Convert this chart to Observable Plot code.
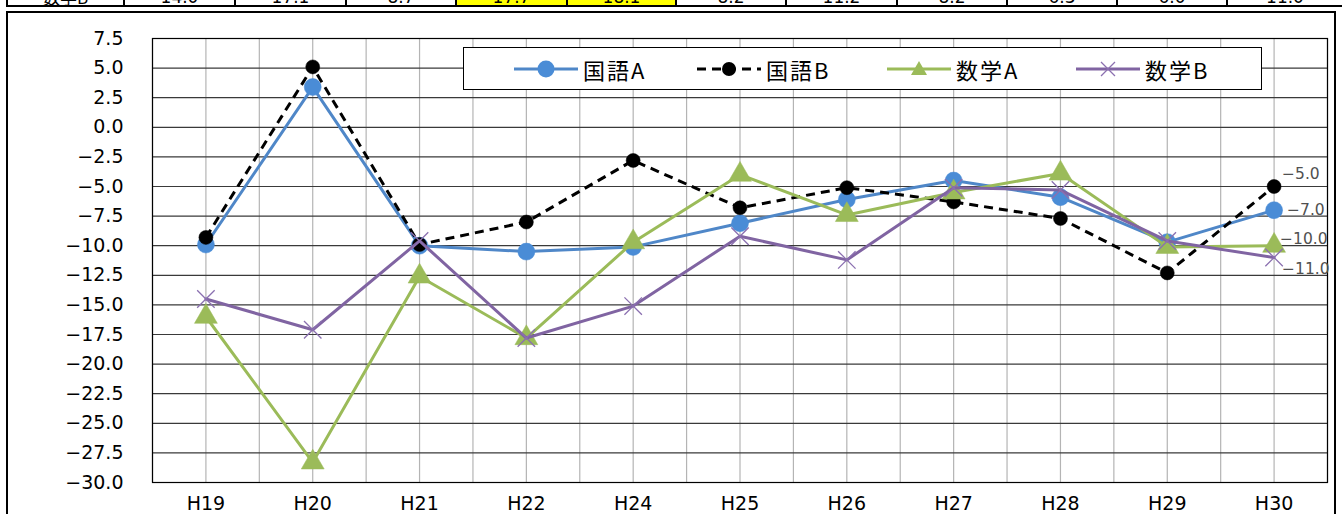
<!DOCTYPE html>
<html>
<head>
<meta charset="utf-8">
<script src="https://cdn.jsdelivr.net/npm/d3@7"></script>
<script src="https://cdn.jsdelivr.net/npm/@observablehq/plot@0.6"></script>
<style>
  html, body { margin: 0; padding: 0; background: #fff; }
  body { width: 1342px; height: 514px; overflow: hidden; position: relative; font-family: "DejaVu Sans", sans-serif; }
  #tablerow { position: absolute; left: 0; top: 0; width: 1342px; height: 8px; overflow: hidden; }
  #tablerow .cell { position: absolute; top: -12px; height: 19px; border-right: 2px solid #000; border-bottom: 2px solid #000;
    box-sizing: border-box; text-align: center; font-size: 17px; line-height: 18px; color: #000; }
  #tablerow .first { border-left: 2px solid #000; font-family: "Noto Sans CJK JP", sans-serif; line-height: 17px; }
  #frame { position: absolute; left: 6px; top: 11px; width: 1330px; height: 520px; border: 2px solid #000; box-sizing: border-box; }
  #chart { position: absolute; left: 0; top: 0; }
  #legend { position: absolute; left: 463px; top: 47px; width: 799px; height: 43px; background: #fff; border: 1px solid #000; box-sizing: border-box; }
  #legend .item { position: absolute; top: 0; height: 41px; display: flex; align-items: center; }
  #legend .lab { font-family: "Noto Sans CJK JP", sans-serif; font-size: 22px; letter-spacing: 2px; color: #000; margin-left: 5px; }
</style>
</head>
<body>
<div id="tablerow"></div>
<div id="frame"></div>
<div id="chart"></div>
<div id="legend"></div>
<script>
// ---- data ----
const categories = ["H19", "H20", "H21", "H22", "H24", "H25", "H26", "H27", "H28", "H29", "H30"];
const seriesNames = ["国語A", "国語B", "数学A", "数学B"];
const kokugoA = [-9.9, 3.4, -10.0, -10.5, -10.1, -8.1, -6.1, -4.5, -5.9, -9.7, -7.0];
const kokugoB = [-9.3, 5.1, -9.9, -8.0, -2.8, -6.8, -5.1, -6.3, -7.7, -12.3, -5.0];
const sugakuA = [-16.0, -28.3, -12.6, -17.8, -9.7, -4.0, -7.4, -5.5, -3.9, -10.1, -10.0];
const sugakuB = [-14.5, -17.1, -9.6, -17.8, -15.1, -9.2, -11.2, -5.1, -5.3, -9.6, -11.0];
const yTicks = [7.5, 5.0, 2.5, 0.0, -2.5, -5.0, -7.5, -10.0, -12.5, -15.0, -17.5, -20.0, -22.5, -25.0, -27.5, -30.0];
const tableLabel = "数学B";
const tableValues = ["14.0", "17.1", "8.7", "17.7", "18.1", "8.2", "11.2", "8.2", "6.3", "6.0", "11.0"];
const tableHighlight = [false, false, false, true, true, false, false, false, false, false, false];

// ---- styles ----
const colors = ["#4f87c8", "#000000", "#9bbb59", "#8064a2"];
const minus = s => s.replace(/-/g, "\u2212");
const fmt = v => minus(v.toFixed(1));

// ---- table row (partially visible, as in the reference crop) ----
const tr = document.getElementById("tablerow");
const colEdges = [6, 125, 236, 347, 457, 568, 677, 787, 898, 1008, 1118, 1228, 1344];
[tableLabel, ...tableValues].forEach((t, k) => {
  const c = document.createElement("div");
  c.className = "cell" + (k === 0 ? " first" : "");
  c.style.left = colEdges[k] + "px";
  c.style.width = (colEdges[k + 1] - colEdges[k]) + "px";
  if (k > 0 && tableHighlight[k - 1]) c.style.background = "#ffff00";
  c.textContent = t;
  tr.appendChild(c);
});

// ---- chart ----
const allSeries = [kokugoA, kokugoB, sugakuA, sugakuB];
const rows = allSeries.map(vals => vals.map((v, i) => ({i, v})));
const vGrid = d3.range(0, 2 * categories.length + 1).map(k => k / 2 - 0.5);

const markerOpts = [
  {symbol: "circle", r: 8.5, fill: "#4a8cd6", stroke: "#4a8cd6", strokeWidth: 0.5},
  {symbol: "circle", r: 7, fill: "#000", stroke: "#000", strokeWidth: 0.5},
  {symbol: "triangle", r: 8.5, fill: "#9bbb59", stroke: "#9bbb59", strokeWidth: 0.5},
  {symbol: "times", r: 8, fill: "none", stroke: "#8b70b0", strokeWidth: 1.3}
];
const labelOffsets = [
  {dx: 13, dy: 0},
  {dx: 8, dy: -12},
  {dx: 6, dy: -7},
  {dx: 8, dy: 11}
];

const marks = [
  Plot.ruleX(vGrid, {x: d => d, stroke: "#b4b4b4", strokeWidth: 1.2, strokeOpacity: 1}),
  Plot.ruleY(yTicks, {y: d => d, stroke: "#3a3a3a", strokeWidth: 1.2}),
  Plot.frame({stroke: "#000", strokeWidth: 1.2}),
  Plot.axisY({ticks: yTicks, tickSize: 0, tickPadding: 29, tickFormat: fmt, label: null, fontSize: 19}),
  Plot.axisX({ticks: d3.range(categories.length), tickSize: 0, tickPadding: 14, tickFormat: i => categories[i], label: null, fontSize: 19})
];
rows.forEach((data, s) => {
  marks.push(Plot.line(data, {x: "i", y: "v", stroke: colors[s], strokeWidth: 3,
    strokeDasharray: s === 1 ? "9,6" : null, strokeLinejoin: "round", strokeLinecap: s === 1 ? "butt" : "round"}));
  marks.push(Plot.dot(data, {x: "i", y: "v", ...markerOpts[s]}));
});
rows.forEach((data, s) => {
  const last = data[data.length - 1];
  marks.push(Plot.text([last], {x: "i", y: "v", text: d => fmt(d.v), textAnchor: "start",
    dx: labelOffsets[s].dx, dy: labelOffsets[s].dy, fontSize: 15.5, fill: "#505050"}));
});

const chart = Plot.plot({
  width: 1342,
  height: 514,
  marginLeft: 152,
  marginRight: 15,
  marginTop: 38,
  marginBottom: 32,
  x: {type: "linear", domain: [-0.5, categories.length - 0.5]},
  y: {domain: [-30, 7.5]},
  style: {fontFamily: "'DejaVu Sans', sans-serif", fontSize: "19px", color: "#000", background: "transparent", overflow: "visible"},
  marks
});
document.getElementById("chart").appendChild(chart);

// ---- legend ----
const legend = document.getElementById("legend");
const itemLeft = [50, 233, 423, 612];
seriesNames.forEach((name, s) => {
  const item = document.createElement("div");
  item.className = "item";
  item.style.left = itemLeft[s] + "px";
  const w = 64, h = 20, cx = 32, cy = 10;
  let marker = "";
  if (s === 0) marker = `<circle cx="${cx}" cy="${cy}" r="8.5" fill="#4a8cd6"/>`;
  if (s === 1) marker = `<circle cx="${cx}" cy="${cy}" r="7" fill="#000"/>`;
  if (s === 2) marker = `<path d="M${cx},${cy - 8} L${cx + 8},${cy + 6} L${cx - 8},${cy + 6} Z" fill="#9bbb59"/>`;
  if (s === 3) marker = `<path d="M${cx - 7},${cy - 7} L${cx + 7},${cy + 7} M${cx - 7},${cy + 7} L${cx + 7},${cy - 7}" stroke="#8b70b0" stroke-width="1.3"/>`;
  const dash = s === 1 ? `stroke-dasharray="9,6"` : "";
  item.innerHTML = `<svg width="${w}" height="${h}"><line x1="0" y1="${cy}" x2="${w}" y2="${cy}" stroke="${colors[s]}" stroke-width="3" ${dash}/>${marker}</svg><span class="lab">${name}</span>`;
  legend.appendChild(item);
});
</script>
</body>
</html>
